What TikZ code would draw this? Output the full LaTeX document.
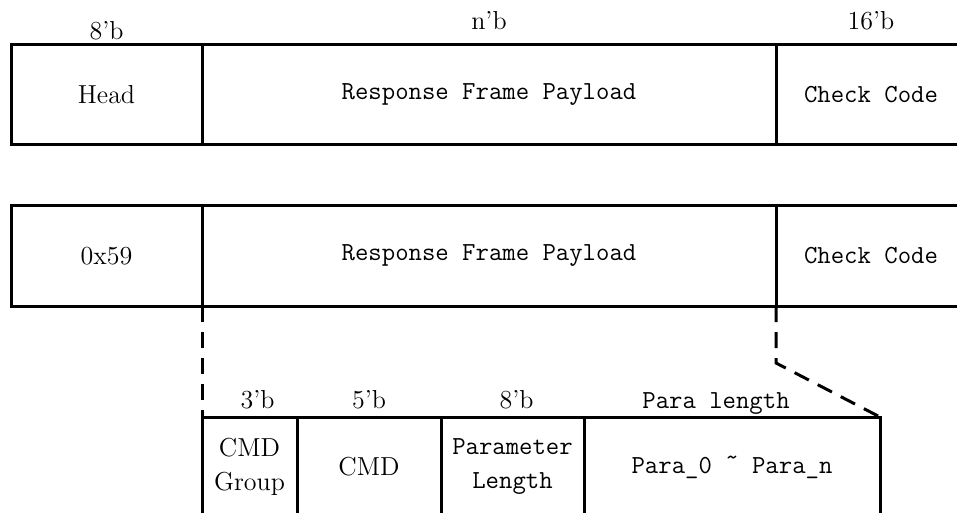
\documentclass[tikz,border=0pt]{standalone}
\usetikzlibrary{positioning}
\tikzset{
  fld/.style   = {rectangle, draw=black, line width=1.5pt, outer sep=0pt,
                  inner sep=0pt, minimum height=50pt, align=center,
                  font=\fontsize{13}{17}\selectfont},
  fldtt/.style = {fld, font=\fontsize{13}{17}\selectfont\ttfamily},
  bits/.style  = {inner sep=0pt, text height=9pt, text depth=0pt,
                  font=\fontsize{13}{15}\selectfont},
  cut/.style   = {line width=1.5pt, dash pattern=on 8pt off 5pt},
}

\begin{document}
\begin{tikzpicture}[x=0.5pt, y=-0.5pt]
  \useasboundingbox (0,0) rectangle (957,513);
  \clip (0,0) rectangle (957,513);

  % generic frame
  \node[fld, minimum width=95.5pt, anchor=north west] (head) at (11,45) {Head};
  \node[fldtt, minimum width=287pt, right=0pt of head] (pay) {Response Frame Payload};
  \node[fldtt, minimum width=95pt, right=0pt of pay] (chk) {Check Code};

  \node[bits, above=2.5pt of head] (bhead) {8'b};
  \node[bits, above=7.5pt of pay] (bpay) {n'b};
  \node[bits, above=7.5pt of chk] (bchk) {16'b};

  % response frame
  \node[fld, minimum width=95.5pt, below=30.5pt of head] (hdr) {0x59};
  \node[fldtt, minimum width=287pt, right=0pt of hdr] (pay2) {Response Frame Payload};
  \node[fldtt, minimum width=95pt, right=0pt of pay2] (chk2) {Check Code};

  % payload fields
  \node[fld, minimum width=47.5pt, below right=55.5pt and 0pt of hdr.south east] (grp) {CMD\\Group};
  \node[fld, minimum width=72pt, right=0pt of grp] (cmd) {CMD};
  \node[fldtt, minimum width=71.5pt, right=0pt of cmd] (plen) {Parameter\\Length};
  \node[fldtt, minimum width=148pt, right=0pt of plen] (para) {Para\_0 \raisebox{0.3em}{\textasciitilde} Para\_n};

  \node[bits, above=4pt of grp, xshift=4pt] (bgrp) {3'b};
  \node[bits, above=4pt of cmd] (bcmd) {5'b};
  \node[bits, above=4pt of plen, xshift=2pt] (bplen) {8'b};
  \node[bits, above=4pt of para, xshift=-8pt, font=\fontsize{13}{15}\selectfont\ttfamily] (bpara) {Para length};

  % zoom lines
  \draw[cut] (pay2.south west) -- (grp.north west);
  \coordinate[below=28.5pt of pay2.south east] (knee);
  \draw[cut] (pay2.south east) -- (knee) -- (para.north east);
\end{tikzpicture}
\end{document}
